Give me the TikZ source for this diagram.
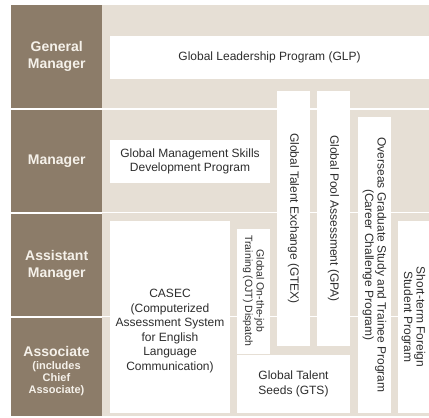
\documentclass[tikz,border=0pt]{standalone}
\usepackage{fontspec}
\setmainfont{Liberation Sans}
\definecolor{rankbrown}{RGB}{140,124,105}
\definecolor{panelbeige}{RGB}{230,223,213}
\definecolor{rankfg}{RGB}{245,241,234}
\definecolor{progfg}{RGB}{45,45,45}
\newcommand{\rankminor}{\fontsize{11}{12}\selectfont}
\begin{document}
\begin{tikzpicture}[x=1pt, y=-1pt,
    rank/.style={fill=rankbrown, text=rankfg, inner sep=0pt, minimum width=91pt,
      align=center, font=\fontsize{14}{17}\selectfont\bfseries},
    prog/.style={fill=white, text=progfg, inner sep=0pt, align=center,
      font=\fontsize{12}{14.5}\selectfont},
    vprog/.style={prog, rotate=-90}]
  \useasboundingbox (0,0) rectangle (429,418);
  \fill[panelbeige] (102,5) rectangle (429,416);
  \node (gm) [rank, minimum height=103.3pt, anchor=north west] at (11,5) {General\\Manager};
  \node (mgr) [rank, minimum height=102pt, anchor=north west] at (11,110) {Manager};
  \node (am) [rank, minimum height=102pt, anchor=north west] at (11,214) {Assistant\\Manager};
  \node (assoc) [rank, minimum height=98pt, anchor=north west] at (11,318) {};
  \node (assoc-text) [rank, fill=none, minimum width=0pt] at (56.5,371)
    {Associate\\[-3.5pt]\rankminor(includes\\[-5pt]\rankminor Chief\\[-5pt]\rankminor Associate)};
  \draw[white, line width=1.6pt] (gm.south west) -- (gm.south west -| 429,0);
  \draw[white, line width=1.6pt] (mgr.south west) -- (mgr.south west -| 429,0);
  \draw[white, line width=1.6pt] (am.south west) -- (am.south west -| 429,0);
  \node (glp) [prog, minimum width=319pt, minimum height=43pt] at (269.5,57.5)
    {Global Leadership Program (GLP)};
  \node (gms) [prog, minimum width=160pt, minimum height=43pt] at (190,161.5)
    {Global Management Skills\\Development Program};
  \node (gtex) [vprog, minimum width=255pt, minimum height=33pt] at (293.5,218.5)
    {Global Talent Exchange (GTEX)};
  \node (gpa) [vprog, minimum width=255pt, minimum height=33pt] at (333.5,218.5)
    {Global Pool Assessment (GPA)};
  \node (ogs) [vprog, minimum width=296pt, minimum height=33pt,
    font=\fontsize{12}{12.5}\selectfont] at (374.5,265)
    {Overseas Graduate Study and Trainee Program\\(Career Challenge Program)};
  \node (stf) [vprog, minimum width=192pt, minimum height=31pt,
    font=\fontsize{12}{12.5}\selectfont] at (413.5,317)
    {Short-term Foreign\\Student Program};
  \node (casec) [prog, minimum width=120pt, minimum height=192pt] at (170,317) {};
  \node (casec-text) [prog, fill=none] at (170,331)
    {CASEC\\(Computerized\\Assessment System\\for English\\Language\\Communication)};
  \node (ojt) [vprog, minimum width=125pt, minimum height=33pt,
    font=\fontsize{10.5}{11.5}\selectfont] at (253.5,291)
    {Global On-the-job\\Training (OJT) Dispatch};
  \node (gts) [prog, minimum width=113pt, minimum height=58pt] at (293.5,384)
    {Global Talent\\Seeds (GTS)};
\end{tikzpicture}
\end{document}
